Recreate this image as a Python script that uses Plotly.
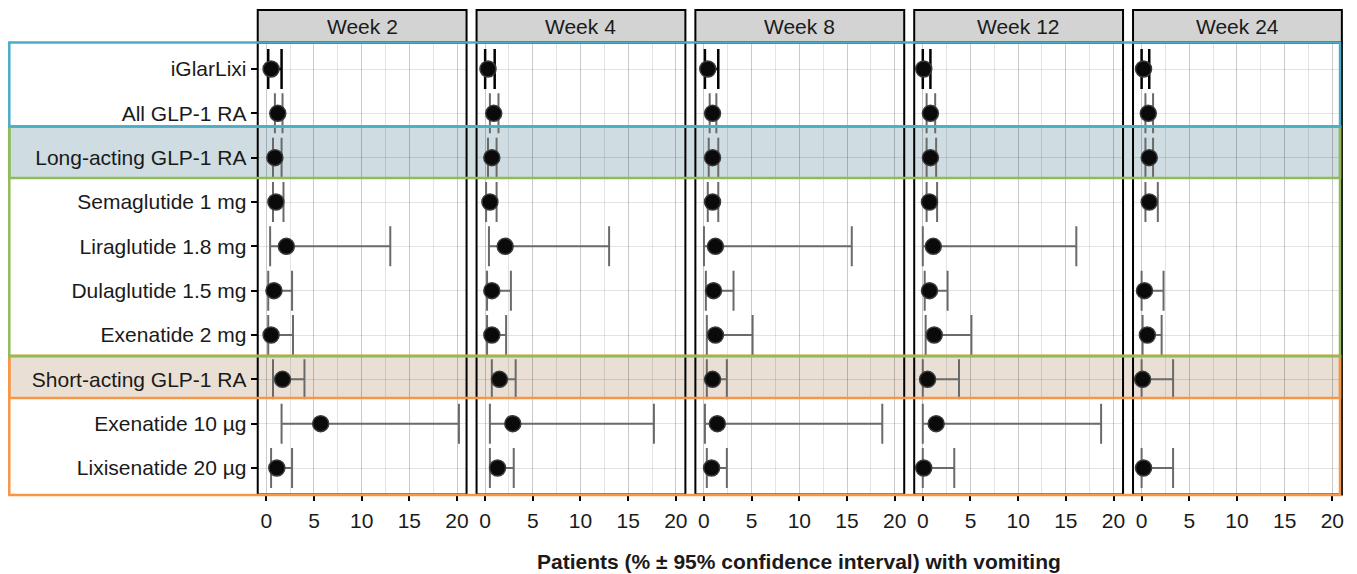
import plotly.graph_objects as go

# The page body has an 8px margin, so the figure is drawn 8px smaller and coordinates shifted.
OFF = 8
W, H = 1357 - OFF, 574 - OFF

categories = ["iGlarLixi", "All GLP-1 RA", "Long-acting GLP-1 RA", "Semaglutide 1 mg",
              "Liraglutide 1.8 mg", "Dulaglutide 1.5 mg", "Exenatide 2 mg",
              "Short-acting GLP-1 RA", "Exenatide 10 µg", "Lixisenatide 20 µg"]
weeks = ["Week 2", "Week 4", "Week 8", "Week 12", "Week 24"]
x_ticks = [0, 5, 10, 15, 20]

w2_pct = [0.5, 1.2, 0.9, 1.0, 2.1, 0.8, 0.5, 1.7, 5.7, 1.1]
w2_lo = [0.2, 0.9, 0.7, 0.7, 0.4, 0.2, 0.2, 0.7, 1.6, 0.5]
w2_hi = [1.6, 1.7, 1.6, 1.8, 13.0, 2.7, 2.8, 4.0, 20.2, 2.7]

w4_pct = [0.3, 0.9, 0.7, 0.5, 2.1, 0.7, 0.7, 1.5, 2.9, 1.3]
w4_lo = [0.0, 0.5, 0.3, 0.1, 0.4, 0.2, 0.2, 0.7, 0.5, 0.5]
w4_hi = [1.0, 1.4, 1.2, 1.2, 13.0, 2.7, 2.2, 3.2, 17.7, 3.0]

w8_pct = [0.4, 0.9, 0.9, 0.9, 1.2, 1.0, 1.2, 0.9, 1.4, 0.8]
w8_lo = [0.1, 0.6, 0.5, 0.4, 0.0, 0.2, 0.3, 0.3, 0.1, 0.3]
w8_hi = [1.5, 1.3, 1.5, 1.5, 15.5, 3.1, 5.1, 2.4, 18.7, 2.4]

w12_pct = [0.1, 0.8, 0.8, 0.7, 1.1, 0.7, 1.2, 0.5, 1.4, 0.1]
w12_lo = [0.0, 0.4, 0.4, 0.4, 0.0, 0.2, 0.3, 0.0, 0.0, 0.0]
w12_hi = [0.8, 1.3, 1.4, 1.5, 16.1, 2.6, 5.1, 3.8, 18.7, 3.3]

w24_pct = [0.2, 0.7, 0.8, 0.8, None, 0.3, 0.6, 0.1, None, 0.2]
w24_lo = [0.0, 0.4, 0.4, 0.4, None, 0.0, 0.1, 0.0, None, 0.0]
w24_hi = [0.8, 1.2, 1.2, 1.7, None, 2.3, 2.1, 3.3, None, 3.3]

series = [(w2_pct, w2_lo, w2_hi), (w4_pct, w4_lo, w4_hi), (w8_pct, w8_lo, w8_hi),
          (w12_pct, w12_lo, w12_hi), (w24_pct, w24_lo, w24_hi)]

FONT = "Liberation Sans, Arial, Helvetica, sans-serif"
TXT = "#1a1a1a"
GRID = "rgba(0,0,0,0.11)"


def px(x):
    return (x - OFF) / W


def py(y):
    return 1 - (y - OFF) / H


# layout geometry (pixels in the 1357x574 window)
zero0, step = 266.7, 219.15
xmin, xmax = -0.9, 21.0
unit = 9.55
panel_top, panel_bot = 42.4, 494.6
strip_top = 10

fig = go.Figure()
shapes = []
annotations = []

# group bands (below grid) and outlines
bx0, bx1 = 9.3, 1342
TEAL, GREEN, ORANGE = "#4bacc6", "#8fbb59", "#f79646"
shapes.append(dict(type="rect", xref="paper", yref="paper", x0=px(bx0), x1=px(bx1),
                   y0=py(178), y1=py(126.5), fillcolor="#cfdde2",
                   line=dict(width=0), layer="below"))
shapes.append(dict(type="rect", xref="paper", yref="paper", x0=px(bx0), x1=px(bx1),
                   y0=py(398), y1=py(356), fillcolor="#e9dfd5",
                   line=dict(width=0), layer="below"))


def err(vals, ref, plus=True):
    out = []
    for v, r in zip(vals, ref):
        if v is None or r is None:
            out.append(None)
        else:
            out.append((v - r) if plus else (r - v))
    return out


for k, (wk, (pct, lo, hi)) in enumerate(zip(weeks, series)):
    idx = k + 1
    sfx = "" if idx == 1 else str(idx)
    x0 = zero0 + step * k
    L = x0 + xmin * unit
    R = x0 + xmax * unit

    ep = err(hi, pct, True)
    em = err(lo, pct, False)
    fig.add_trace(go.Scatter(
        x=pct[1:], y=categories[1:], mode="markers",
        marker=dict(size=16, color="#0a0a0a", line=dict(color="#3a3a3a", width=1.5)),
        error_x=dict(type="data", symmetric=False, array=ep[1:], arrayminus=em[1:],
                     color="#6a6a6a", thickness=2, width=20),
        xaxis="x" + sfx, yaxis="y" + sfx, showlegend=False))
    fig.add_trace(go.Scatter(
        x=pct[:1], y=categories[:1], mode="markers",
        marker=dict(size=16, color="#0a0a0a", line=dict(color="#3a3a3a", width=1.5)),
        error_x=dict(type="data", symmetric=False, array=ep[:1], arrayminus=em[:1],
                     color="#000000", thickness=2.5, width=20),
        xaxis="x" + sfx, yaxis="y" + sfx, showlegend=False))

    fig.layout["xaxis" + sfx] = dict(
        domain=[px(L), px(R)], range=[xmin, xmax], anchor="y" + sfx,
        tickmode="array", tickvals=x_ticks, ticktext=[str(t) for t in x_ticks],
        ticks="outside", ticklen=5, tickwidth=1.5, tickcolor="#000",
        ticklabelstandoff=2,
        showgrid=True, gridcolor=GRID, gridwidth=1.3,
        minor=dict(tickmode="linear", tick0=0, dtick=2.5, showgrid=True,
                   gridcolor=GRID, gridwidth=1.3, ticks=""),
        zeroline=False, showline=False,
        tickfont=dict(family=FONT, size=21, color=TXT))
    fig.layout["yaxis" + sfx] = dict(
        domain=[py(panel_bot), py(panel_top)], anchor="x" + sfx,
        type="category", categoryorder="array", categoryarray=categories,
        range=[9.6, -0.6], showgrid=True, gridcolor=GRID, gridwidth=1.3,
        zeroline=False, showline=False,
        ticks="outside" if idx == 1 else "", ticklen=6, tickwidth=1.5, tickcolor="#000",
        showticklabels=(idx == 1),
        tickfont=dict(family=FONT, size=21, color=TXT))

    shapes.append(dict(type="rect", xref="paper", yref="paper",
                       x0=px(L), x1=px(R), y0=py(panel_top), y1=py(strip_top),
                       fillcolor="#d3d3d3", line=dict(color="#000", width=2), layer="above"))
    annotations.append(dict(text=wk, xref="paper", yref="paper",
                            x=px((L + R) / 2), y=py((strip_top + panel_top) / 2),
                            showarrow=False, xanchor="center", yanchor="middle",
                            font=dict(family=FONT, size=21, color=TXT)))
    shapes.append(dict(type="rect", xref="paper", yref="paper",
                       x0=px(L), x1=px(R), y0=py(panel_bot), y1=py(panel_top),
                       fillcolor="rgba(0,0,0,0)", line=dict(color="#000", width=2),
                       layer="above"))

outlines = [
    (ORANGE, 356, 495), (ORANGE, 356, 398),
    (GREEN, 126.5, 356), (GREEN, 126.5, 178),
    (TEAL, 42.4, 126.5),
]
for col, t, b in outlines:
    shapes.append(dict(type="rect", xref="paper", yref="paper", x0=px(bx0), x1=px(bx1),
                       y0=py(b), y1=py(t), fillcolor="rgba(0,0,0,0)",
                       line=dict(color=col, width=2.5), layer="above"))

annotations.append(dict(text="<b>Patients (% ± 95% confidence interval) with vomiting</b>",
                        xref="paper", yref="paper", x=px(800.5), y=py(561),
                        showarrow=False, xanchor="center", yanchor="middle",
                        font=dict(family=FONT, size=21, color=TXT)))

fig.update_layout(width=W, height=H, margin=dict(l=0, r=0, t=0, b=0),
                  paper_bgcolor="white", plot_bgcolor="rgba(0,0,0,0)",
                  shapes=shapes, annotations=annotations, showlegend=False)

fig.write_html("out.html")
